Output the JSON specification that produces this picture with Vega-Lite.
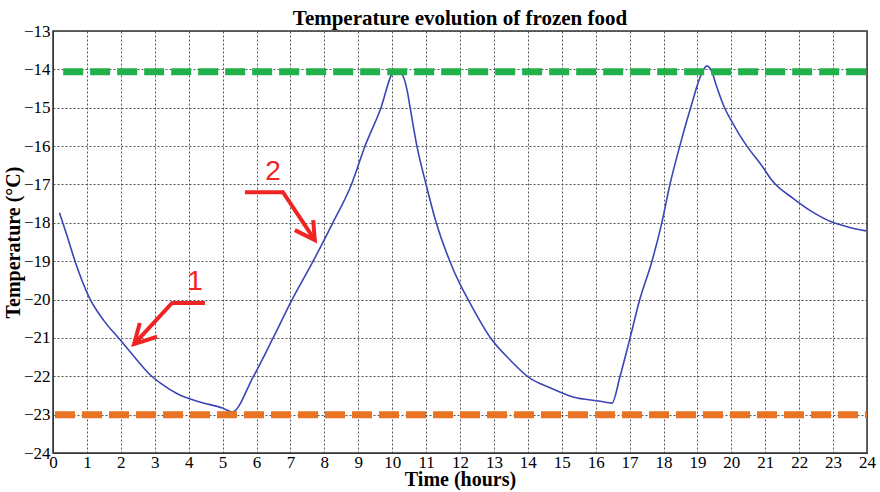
{
  "$schema": "https://vega.github.io/schema/vega-lite/v6.json",
  "width": 814,
  "height": 422,
  "autosize": {"type": "none"},
  "padding": {"left": 53, "top": 31, "right": 13, "bottom": 39},
  "background": "white",
  "title": {"text": "Temperature evolution of frozen food", "font": "Liberation Serif", "fontSize": 21, "fontWeight": "bold", "color": "black", "offset": -7, "anchor": "middle"},
  "config": {
    "font": "Liberation Serif",
    "view": {"stroke": "#333333", "strokeWidth": 1.5},
    "style": {
      "guide-label": {"font": "Liberation Serif", "fontSize": 17, "fill": "black"},
      "guide-title": {"font": "Liberation Serif", "fontSize": 20, "fontWeight": "bold", "fill": "black"}
    },
    "axis": {"labelFont": "Liberation Serif", "labelFontSize": 17, "labelColor": "black", "titleFont": "Liberation Serif", "titleFontWeight": "bold", "titleColor": "black", "gridColor": "#444444", "gridDash": [2, 2], "gridOpacity": 0.9, "domainColor": "#333333", "ticks": false, "labelOverlap": false}
  },
  "datasets": {
    "curve": [
      {"h": 0.19, "t": -17.74}, {"h": 0.4, "t": -18.3}, {"h": 0.65, "t": -19.0}, {"h": 1.07, "t": -19.95},
      {"h": 1.5, "t": -20.55}, {"h": 1.98, "t": -21.05}, {"h": 2.45, "t": -21.55}, {"h": 2.91, "t": -22.0},
      {"h": 3.2, "t": -22.2}, {"h": 3.65, "t": -22.45}, {"h": 4.33, "t": -22.67}, {"h": 5.0, "t": -22.83},
      {"h": 5.28, "t": -22.93}, {"h": 5.9, "t": -22.02}, {"h": 6.49, "t": -21.0}, {"h": 7.05, "t": -20.0},
      {"h": 7.67, "t": -19.0}, {"h": 8.25, "t": -18.0}, {"h": 8.8, "t": -17.0}, {"h": 9.2, "t": -16.0},
      {"h": 9.67, "t": -15.0}, {"h": 10.0, "t": -14.1}, {"h": 10.05, "t": -14.04}, {"h": 10.26, "t": -14.1},
      {"h": 10.44, "t": -14.54}, {"h": 10.53, "t": -15.0}, {"h": 10.73, "t": -16.0}, {"h": 11.0, "t": -17.0},
      {"h": 11.3, "t": -18.0}, {"h": 11.7, "t": -19.0}, {"h": 12.0, "t": -19.6}, {"h": 12.24, "t": -20.0},
      {"h": 12.94, "t": -21.05}, {"h": 13.47, "t": -21.57}, {"h": 14.06, "t": -22.05}, {"h": 14.65, "t": -22.3},
      {"h": 15.33, "t": -22.54}, {"h": 16.13, "t": -22.65}, {"h": 16.48, "t": -22.7}, {"h": 16.72, "t": -22.0},
      {"h": 17.0, "t": -21.05}, {"h": 17.3, "t": -20.0}, {"h": 17.66, "t": -19.0}, {"h": 17.95, "t": -18.0},
      {"h": 18.19, "t": -17.0}, {"h": 18.48, "t": -16.0}, {"h": 18.8, "t": -15.0}, {"h": 19.13, "t": -14.1},
      {"h": 19.28, "t": -13.91}, {"h": 19.43, "t": -14.07}, {"h": 19.55, "t": -14.4}, {"h": 19.8, "t": -15.0},
      {"h": 20.02, "t": -15.37}, {"h": 20.25, "t": -15.72}, {"h": 20.46, "t": -16.0}, {"h": 20.93, "t": -16.55},
      {"h": 21.2, "t": -16.9}, {"h": 21.82, "t": -17.36}, {"h": 22.4, "t": -17.72}, {"h": 22.97, "t": -17.98},
      {"h": 23.41, "t": -18.1}, {"h": 23.97, "t": -18.21}
    ],
    "limits": [
      {"name": "max", "t": -14.06, "h": 0.3, "h1": 24},
      {"name": "min", "t": -23.0, "h": 0.06, "h1": 24}
    ],
    "arrows": [
      {"path": "a1", "i": 0, "h": 4.48, "t": -20.09}, {"path": "a1", "i": 1, "h": 3.51, "t": -20.09}, {"path": "a1", "i": 2, "h": 2.39, "t": -21.16},
      {"path": "a1h", "i": 0, "h": 2.56, "t": -20.61}, {"path": "a1h", "i": 1, "h": 2.39, "t": -21.16}, {"path": "a1h", "i": 2, "h": 3.07, "t": -20.97},
      {"path": "a2", "i": 0, "h": 5.66, "t": -17.2}, {"path": "a2", "i": 1, "h": 6.78, "t": -17.2}, {"path": "a2", "i": 2, "h": 7.72, "t": -18.45},
      {"path": "a2h", "i": 0, "h": 7.67, "t": -17.93}, {"path": "a2h", "i": 1, "h": 7.72, "t": -18.45}, {"path": "a2h", "i": 2, "h": 7.13, "t": -18.19}
    ],
    "labels": [
      {"label": "1", "h": 4.19, "t": -19.54},
      {"label": "2", "h": 6.49, "t": -16.68}
    ]
  },
  "encoding": {
    "x": {"field": "h", "type": "quantitative", "scale": {"domain": [0, 24], "nice": false},
          "axis": {"title": "Time (hours)", "values": [0,1,2,3,4,5,6,7,8,9,10,11,12,13,14,15,16,17,18,19,20,21,22,23,24], "labelFont": "Liberation Serif", "labelFontSize": 17, "titleFont": "Liberation Serif", "titleFontSize": 20, "titlePadding": -1, "labelPadding": 1, "labelFlush": false, "labelOverlap": false}},
    "y": {"field": "t", "type": "quantitative", "scale": {"domain": [-24, -13], "nice": false},
          "axis": {"title": "Temperature (°C)", "values": [-24,-23,-22,-21,-20,-19,-18,-17,-16,-15,-14,-13], "labelFont": "Liberation Serif", "labelFontSize": 17, "titleFont": "Liberation Serif", "titleFontSize": 20, "titlePadding": 0, "labelPadding": 3, "labelOverlap": false}}
  },
  "layer": [
    {
      "data": {"name": "curve"},
      "mark": {"type": "line", "color": "#3c46b4", "strokeWidth": 1.6, "interpolate": "monotone"}
    },
    {
      "data": {"name": "limits"},
      "mark": {"type": "rule", "strokeWidth": 7, "strokeDash": [20, 7], "strokeCap": "butt"},
      "encoding": {
        "x2": {"field": "h1"},
        "color": {"field": "name", "type": "nominal", "scale": {"domain": ["max", "min"], "range": ["#22b04b", "#e87423"]}, "legend": null}
      }
    },
    {
      "data": {"name": "arrows"},
      "mark": {"type": "line", "color": "#f02424", "strokeWidth": 4, "strokeJoin": "miter", "strokeCap": "butt"},
      "encoding": {
        "detail": {"field": "path", "type": "nominal"},
        "order": {"field": "i", "type": "quantitative"}
      }
    },
    {
      "data": {"name": "labels"},
      "mark": {"type": "text", "color": "#f02424", "font": "Liberation Sans", "fontSize": 28, "baseline": "middle", "align": "center"},
      "encoding": {
        "text": {"field": "label"}
      }
    }
  ]
}
